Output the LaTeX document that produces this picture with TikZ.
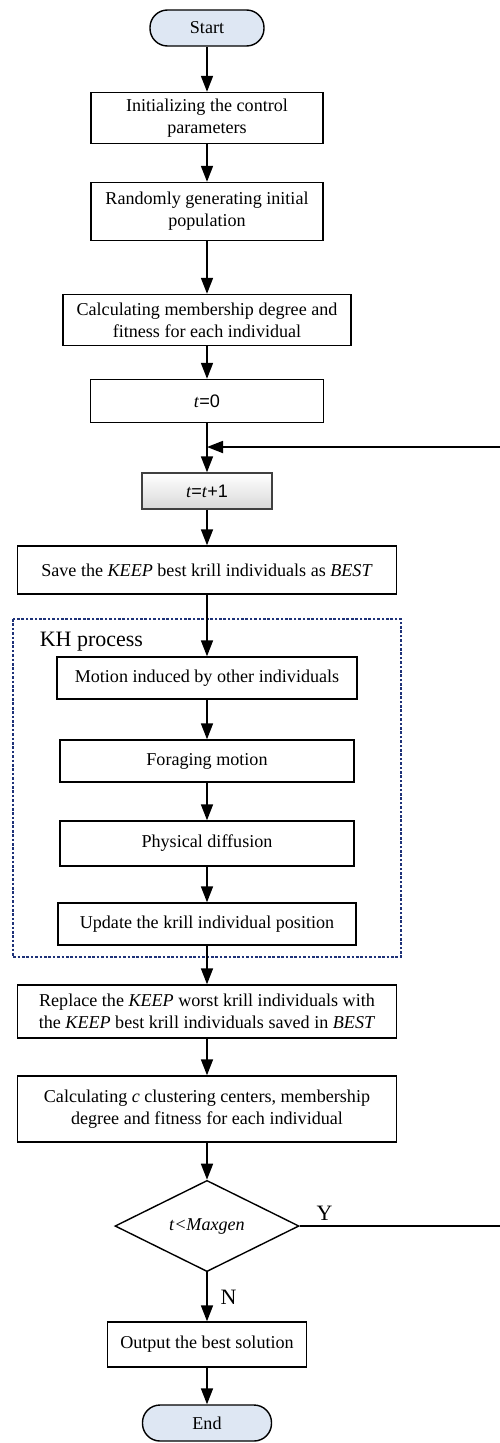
\documentclass[tikz,border=0pt]{standalone}
\usepackage{fontspec}
\setmainfont{Liberation Serif}
\setsansfont{Liberation Sans}
\usetikzlibrary{arrows.meta,shapes.geometric}
\definecolor{termblue}{RGB}{222,231,243}
\definecolor{khblue}{RGB}{30,50,120}
\tikzset{%
  >={Triangle[width=2.4mm,length=3.2mm]},
            base/.style = {rectangle, draw=black, line width=0.8pt,
                           minimum width=4.64cm, minimum height=1cm,
                           inner sep=1pt, text centered,
                           font=\fontsize{10.3}{12.4}\selectfont},
  box0/.style = {base, fill=white, align=center},
  box1/.style = {base, top color=white, bottom color=black!15, draw=black!75, align=center},
  term/.style = {base, rounded corners=0.35cm, fill=termblue, align=center},
  dec/.style  = {base, diamond, fill=white, inner sep=0pt},
  lbl/.style  = {font=\fontsize{12.5}{15}\selectfont, inner sep=0pt},
  khbox/.style = {draw=khblue, line width=0.8pt, dash pattern=on 1.5pt off 1pt},
}
\begin{document}
\begin{tikzpicture}[node distance=1.8cm, line width=1pt]
  \useasboundingbox (0,0) rectangle (9.98,-28.86);

  \node (onStart)   [term, minimum width=2.28cm, minimum height=0.72cm] at (4.14,-0.56) {Start};
  \node (onInit)    [box0, below of=onStart, minimum height=1.02cm]  {Initializing the control\\parameters};
  \node (onRandom)  [box0, below of=onInit, yshift=-0.07cm, minimum height=1.16cm]  {Randomly generating initial\\population};
  \node (onCalc)    [box0, below of=onRandom, yshift=-0.37cm, minimum width=5.76cm, minimum height=1.02cm]  {Calculating membership degree and\\fitness for each individual};
  \node (onT0)      [box0, below of=onCalc, yshift=0.18cm, minimum width=4.66cm, minimum height=0.86cm]  {\textit{t}\textsf{=0}};
  \node (onTinc)    [box1, below of=onT0, minimum width=2.6cm, minimum height=0.72cm]  {\textit{t}\textsf{=}\textit{t}\textsf{+1}};
  \node (onSave)    [box0, below of=onTinc, yshift=0.22cm, minimum width=7.58cm, minimum height=0.96cm]  {Save the \textit{KEEP} best krill individuals as \textit{BEST}};

  % KH process
  \draw[khbox] (0.26,-12.38) rectangle (8.02,-19.14);
  \node (onKH)      [lbl, anchor=west] at (0.78,-12.84) {KH process};
  \node (onMotion)  [box0, below of=onSave, yshift=-0.36cm, minimum width=6cm, minimum height=0.84cm]  {Motion induced by other individuals};
  \node (onForage)  [box0, below of=onMotion, yshift=0.14cm, minimum width=5.88cm, minimum height=0.84cm]  {Foraging motion};
  \node (onPhys)    [box0, below of=onForage, yshift=0.15cm, minimum width=5.88cm, minimum height=0.9cm]  {Physical diffusion};
  \node (onUpdate)  [box0, below of=onPhys, yshift=0.19cm, minimum width=5.96cm, minimum height=0.84cm]  {Update the krill individual position};

  \node (onReplace) [box0, below of=onUpdate, yshift=0.05cm, minimum width=7.58cm, minimum height=1.06cm]  {Replace the \textit{KEEP} worst krill individuals with\\the \textit{KEEP} best krill individuals saved in \textit{BEST}};
  \node (onCalcC)   [box0, below of=onReplace, yshift=-0.15cm, minimum width=7.58cm, minimum height=1.32cm]  {Calculating \textit{c} clustering centers, membership\\degree and fitness for each individual};
  \node (onDec)     [dec, below of=onCalcC, yshift=-0.54cm, minimum width=3.68cm, minimum height=1.72cm]  {\textit{t<Maxgen}};
  \node (onOut)     [box0, below of=onDec, yshift=-0.57cm, minimum width=3.98cm, minimum height=0.9cm]  {Output the best solution};
  \node (onEnd)     [term, below of=onOut, yshift=0.23cm, minimum width=2.58cm, minimum height=0.72cm]  {End};

  \node (onY)       [lbl] at (6.49,-24.26) {Y};
  \node (onN)       [lbl] at (4.57,-25.94) {N};

  \coordinate (loopR) at (10.1,-8.94);
  \coordinate (loopJ) at (4.14,-8.94);

  \draw[->]      (onStart)   -- (onInit);
  \draw[->]      (onInit)    -- (onRandom);
  \draw[->]      (onRandom)  -- (onCalc);
  \draw[->]      (onCalc)    -- (onT0);
  \draw[->]      (onT0)      -- (onTinc);
  \draw[->]      (onTinc)    -- (onSave);
  \draw[->]      (onSave)    -- (onMotion);
  \draw[->]      (onMotion)  -- (onForage);
  \draw[->]      (onForage)  -- (onPhys);
  \draw[->]      (onPhys)    -- (onUpdate);
  \draw[->]      (onUpdate)  -- (onReplace);
  \draw[->]      (onReplace) -- (onCalcC);
  \draw[->]      (onCalcC)   -- (onDec);
  \draw[->]      (onDec)     -- (onOut);
  \draw[->]      (onOut)     -- (onEnd);
  \draw[->]      (onDec.east) -| (loopR) -- (loopJ);
\end{tikzpicture}
\end{document}
